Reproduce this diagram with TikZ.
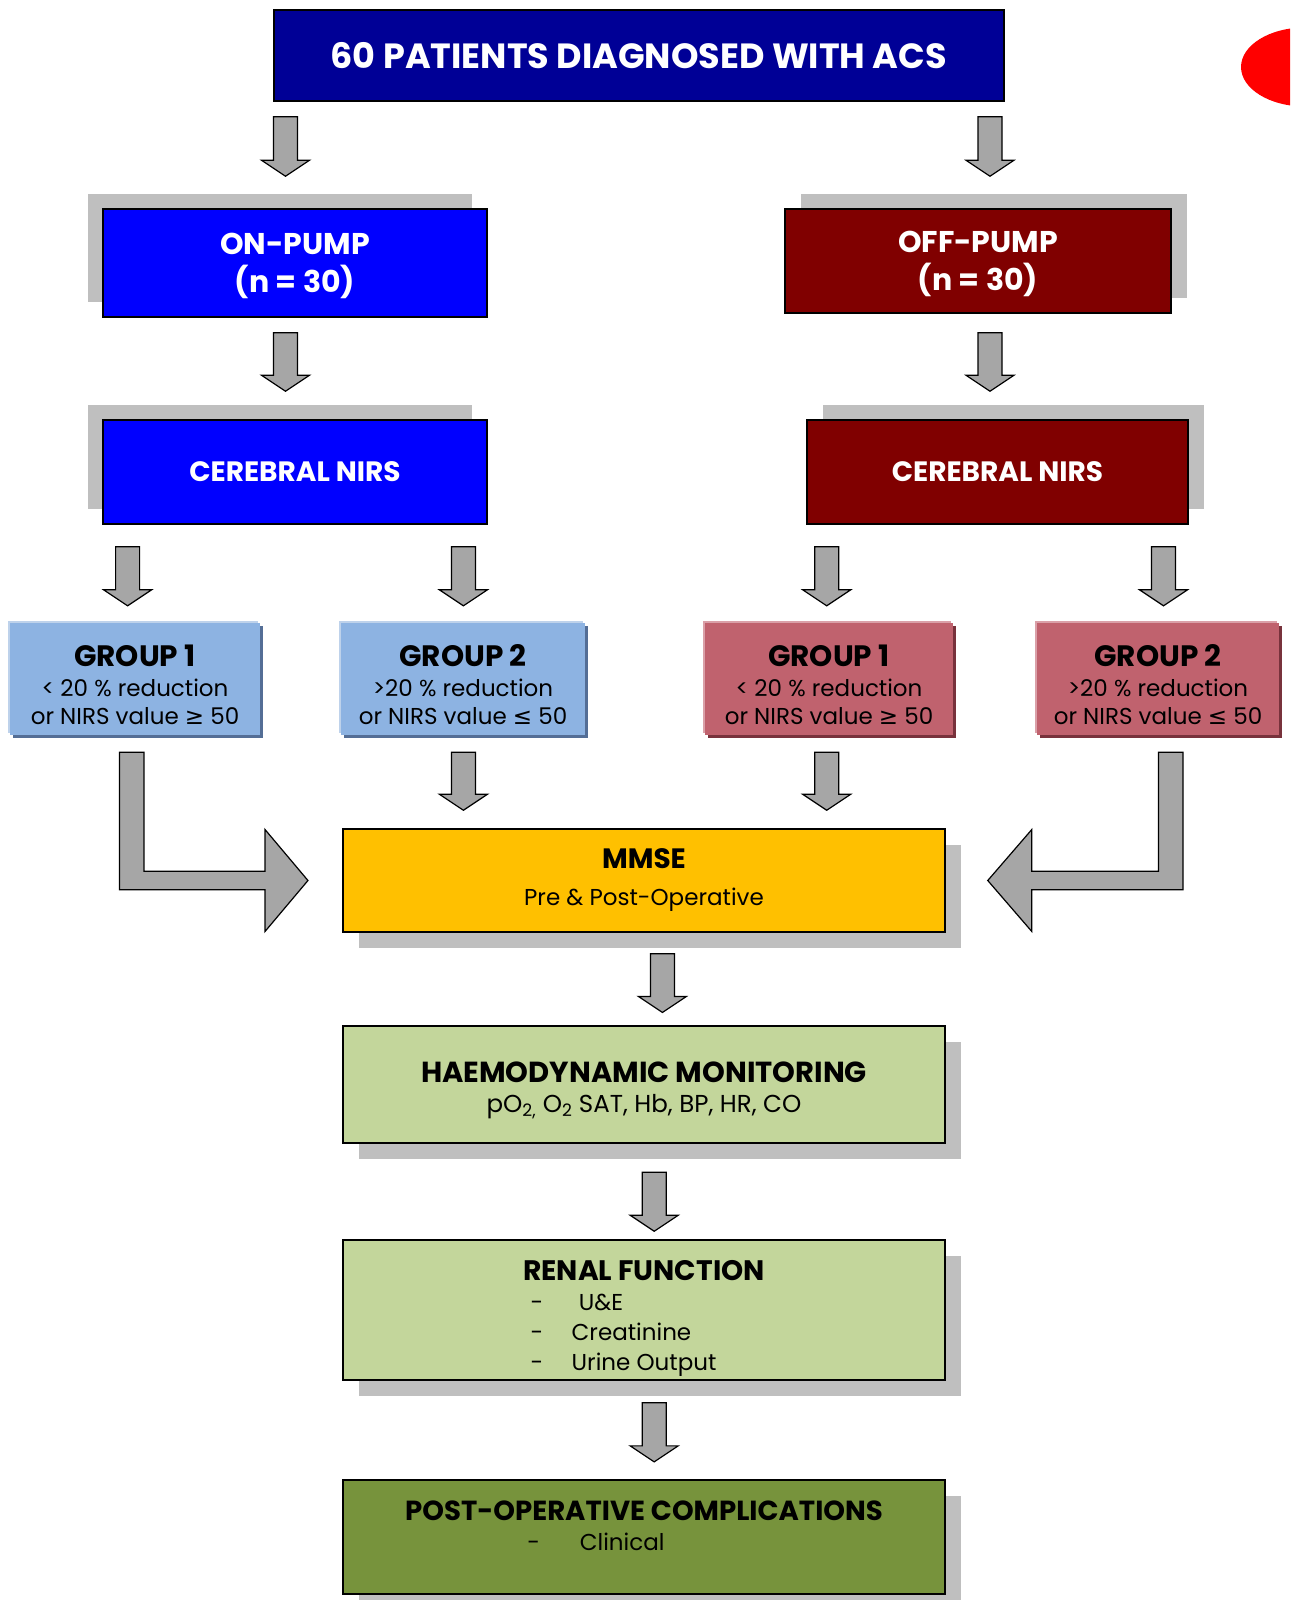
\documentclass[tikz,border=0pt]{standalone}
\usepackage{fontspec}
\setmainfont{Poppins}
\newfontfamily\symfont{DejaVu Sans}
\usetikzlibrary{calc,shadows}
\definecolor{navybox}{RGB}{0,0,150}
\definecolor{bluebox}{RGB}{0,0,255}
\definecolor{redbox}{RGB}{128,0,0}
\definecolor{bluegrp}{RGB}{141,179,226}
\definecolor{bluegrpdark}{RGB}{84,110,150}
\definecolor{bluegrplight}{RGB}{190,210,235}
\definecolor{rosegrp}{RGB}{192,98,110}
\definecolor{rosegrpdark}{RGB}{120,50,60}
\definecolor{rosegrplight}{RGB}{218,160,168}
\definecolor{goldbox}{RGB}{255,192,0}
\definecolor{greenbox}{RGB}{195,214,155}
\definecolor{olivebox}{RGB}{119,147,60}
\definecolor{shadowgray}{RGB}{191,191,191}
\definecolor{arrowgray}{RGB}{166,166,166}
\newcommand{\dnarrow}[5]{%
  \draw[blockarrow] let \p1=(#2.south), \p2=(#4.north) in
    (#1pt-12pt,\y1-#3pt) -- (#1pt+12pt,\y1-#3pt) -- (#1pt+12pt,\y2+#5pt+16pt) -- (#1pt+24pt,\y2+#5pt+16pt)
    -- (#1pt,\y2+#5pt) -- (#1pt-24pt,\y2+#5pt+16pt) -- (#1pt-12pt,\y2+#5pt+16pt) -- cycle;}
\newcommand{\boxtitle}[3]{\rule{0pt}{#2pt}{\bfseries\fontsize{#1}{#1}\selectfont #3}}
\begin{document}
\begin{tikzpicture}[x=1pt,y=-1pt,
    box/.style={draw=black,line width=1.5pt,inner sep=0pt,align=center},
    headbox/.style={box,text=white,font=\bfseries\fontsize{30}{38}\selectfont},
    shadowL/.style={general shadow={fill=shadowgray,shadow xshift=-15pt,shadow yshift=15pt}},
    shadowR/.style={general shadow={fill=shadowgray,shadow xshift=16pt,shadow yshift=15pt}},
    shadowD/.style={general shadow={fill=shadowgray,shadow xshift=16pt,shadow yshift=-16pt}},
    grp/.style={inner sep=0pt,align=center,fill=#1,minimum height=112pt,
      general shadow={fill=#1dark,shadow xshift=3pt,shadow yshift=-3pt},
      general shadow={fill=#1light,shadow xshift=-2pt,shadow yshift=2pt},
      font=\fontsize{23}{28}\selectfont},
    lowbox/.style={box,shadowD,minimum width=602pt,fill=#1,font=\fontsize{23}{30}\selectfont},
    listtxt/.style={font=\fontsize{23}{28}\selectfont,inner sep=0pt},
    blockarrow/.style={draw=black,line width=1.2pt,fill=arrowgray}]
\useasboundingbox (0,0) rectangle (1290,1600);
\begin{scope}
  \clip (0,0) rectangle (1290,1600);
  \fill[red] (1305,67) ellipse [x radius=64pt, y radius=39.5pt];
\end{scope}
\node[headbox,fill=navybox,minimum width=730pt,minimum height=91pt,font=\bfseries\fontsize{35}{40}\selectfont] (top) at (638.8,55.5) {60 PATIENTS DIAGNOSED WITH ACS};
\node[headbox,fill=bluebox,shadowL,minimum width=384pt,minimum height=108pt] (onpump) at (295,263) {\rule{0pt}{27pt}ON-PUMP\\(n = 30)};
\node[headbox,fill=redbox,shadowR,minimum width=386pt,minimum height=104pt] (offpump) at (978,261) {\rule{0pt}{27pt}OFF-PUMP\\(n = 30)};
\node[headbox,fill=bluebox,shadowL,minimum width=384pt,minimum height=104pt,font=\bfseries\fontsize{28}{32}\selectfont] (nirsL) at (295,472) {CEREBRAL NIRS};
\node[headbox,fill=redbox,shadowR,minimum width=381pt,minimum height=104pt,font=\bfseries\fontsize{28}{32}\selectfont] (nirsR) at (997.5,472) {CEREBRAL NIRS};
\node[grp=bluegrp,minimum width=250pt] (grpLa) at (135,679) {\boxtitle{29.5}{33}{GROUP 1}\\[2pt]< 20 \% reduction\\or NIRS value {\symfont ≥} 50};
\node[grp=bluegrp,minimum width=244pt] (grpLb) at (463,679) {\boxtitle{29.5}{33}{GROUP 2}\\[2pt]>20 \% reduction\\or NIRS value {\symfont ≤} 50};
\node[grp=rosegrp,minimum width=248pt] (grpRa) at (829,679) {\boxtitle{29.5}{33}{GROUP 1}\\[2pt]< 20 \% reduction\\or NIRS value {\symfont ≥} 50};
\node[grp=rosegrp,minimum width=242pt] (grpRb) at (1158,679) {\boxtitle{29.5}{33}{GROUP 2}\\[2pt]>20 \% reduction\\or NIRS value {\symfont ≤} 50};
\node[lowbox=goldbox,minimum height=103pt] (mmse) at (644,880.5) {\boxtitle{28}{0}{MMSE}\\[7pt]Pre \& Post-Operative};
\node[lowbox=greenbox,minimum height=117pt,font=\fontsize{24.5}{30}\selectfont] (haemo) at (644,1084.4) {\boxtitle{29}{33}{HAEMODYNAMIC MONITORING}\\pO\textsubscript{2,} O\textsubscript{2} SAT, Hb, BP, HR, CO};
\node[lowbox=greenbox,minimum height=140pt] (renal) at (644,1310) {};
\node[lowbox=olivebox,minimum height=114pt] (post) at (644,1537) {};
\node[font=\bfseries\fontsize{28.2}{32}\selectfont] (renalT) at (644,1270.7) {RENAL FUNCTION};
\node[listtxt,anchor=base] (renalD1) at (537,1310.5) {-};
\node[listtxt,anchor=base west] (renalA) at (578.7,1310.5) {U\&E};
\node[listtxt,anchor=base] (renalD2) at (537,1340.5) {-};
\node[listtxt,anchor=base west] (renalB) at (571.5,1340.5) {Creatinine};
\node[listtxt,anchor=base] (renalD3) at (537,1370) {-};
\node[listtxt,anchor=base west] (renalC) at (571.5,1370) {Urine Output};
\node[font=\bfseries\fontsize{27.6}{32}\selectfont] (postT) at (644,1510.5) {POST-OPERATIVE COMPLICATIONS};
\node[listtxt,anchor=base] (postD) at (533.8,1550.5) {-};
\node[listtxt,anchor=base west] (postA) at (579.7,1550.5) {Clinical};
\dnarrow{285.5}{top}{15}{onpump}{32}
\dnarrow{990}{top}{15}{offpump}{32}
\dnarrow{285.5}{onpump}{15}{nirsL}{28}
\dnarrow{990}{offpump}{19}{nirsR}{28}
\dnarrow{127.6}{nirsL}{22}{grpLa}{17}
\dnarrow{463.4}{nirsL}{22}{grpLb}{17}
\dnarrow{826.7}{nirsR}{22}{grpRa}{17}
\dnarrow{1163.5}{nirsR}{22}{grpRb}{17}
\dnarrow{463.4}{grpLb}{17}{mmse}{18}
\dnarrow{826.7}{grpRa}{17}{mmse}{18}
\dnarrow{662.4}{mmse}{21}{haemo}{12.7}
\dnarrow{654.2}{haemo}{28.6}{renal}{8}
\dnarrow{654.2}{renal}{22}{post}{17.4}
\draw[blockarrow] let \p1=(grpLa.south), \p2=(mmse.west) in
  (119.4pt,\y1-17pt) -- (143.9pt,\y1-17pt) -- (143.9pt,\y2+9.3pt) -- (265pt,\y2+9.3pt) -- (265pt,\y2+51pt)
  -- (\x2-34.3pt,\y2) -- (265pt,\y2-51pt) -- (265pt,\y2-9.3pt) -- (119.4pt,\y2-9.3pt) -- cycle;
\draw[blockarrow] let \p1=(grpRb.south), \p2=(mmse.east) in
  (1183pt,\y1-17pt) -- (1158.4pt,\y1-17pt) -- (1158.4pt,\y2+9.3pt) -- (1031.8pt,\y2+9.3pt) -- (1031.8pt,\y2+51pt)
  -- (\x2+42pt,\y2) -- (1031.8pt,\y2-51pt) -- (1031.8pt,\y2-9.3pt) -- (1183pt,\y2-9.3pt) -- cycle;
\end{tikzpicture}
\end{document}
